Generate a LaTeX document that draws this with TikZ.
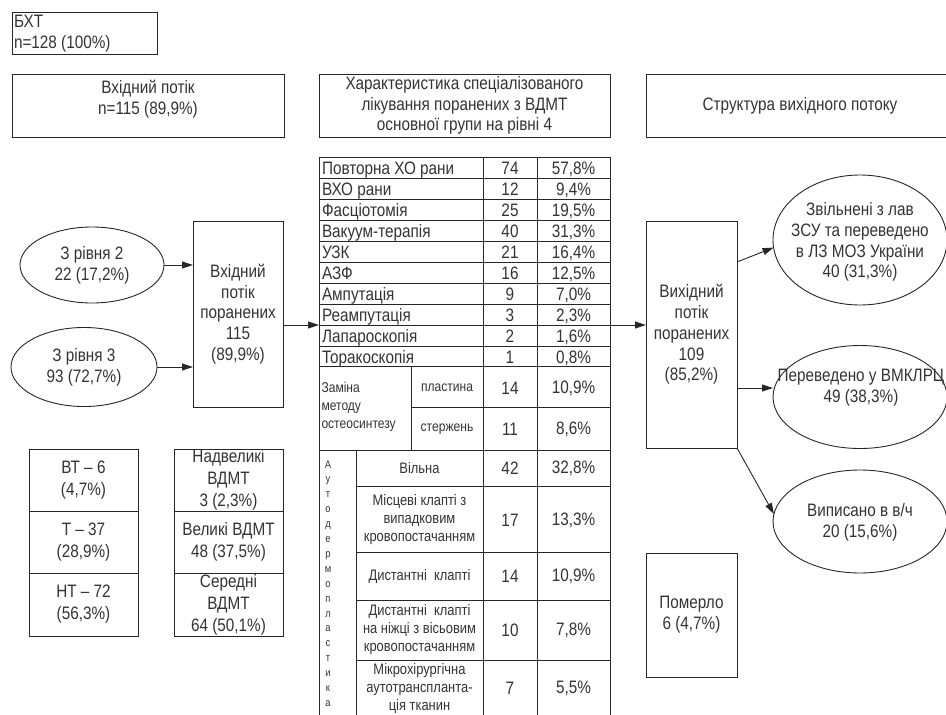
\documentclass[tikz,border=0pt]{standalone}
\usepackage{fontspec}
\setmainfont{Liberation Sans}[FakeStretch=0.85]
\usetikzlibrary{arrows.meta,shapes.geometric}
\newcommand\tabrow[5]{%
  \node[txt, anchor=base west] (tl#1) at (322,#2+6.5) {#3};
  \node[txt, anchor=base] (tn#1) at (510,#2+6.5) {#4};
  \node[txt, anchor=base] (tp#1) at (573.5,#2+6.5) {#5};}
\begin{document}
\begin{tikzpicture}[x=1pt,y=-1pt,
  ln/.style={draw=black!85, line width=0.9pt},
  txt/.style={font=\fontsize{18}{20.7}\selectfont, text=black!80, inner sep=0pt, outer sep=0pt, align=center},
  bx/.style={txt, ln, rectangle},
  ell/.style={txt, ln, ellipse},
  sm/.style={txt, font=\fontsize{14.2}{18}\selectfont},
  ad/.style={txt, font=\fontsize{15.2}{18}\selectfont},
  bl/.style={font=\fontsize{18}{22}\selectfont},
  arr/.style={ln, -{Triangle[length=11pt,width=7pt]}}]
\useasboundingbox (0,0) rectangle (946,715);
\clip (0,0) rectangle (946,715);

% headers
\node[bx, minimum width=145, minimum height=42] (bxt) at (84.5,33) {};
\node[txt, anchor=north west, align=left] (bxtt) at (14,15) {БХТ\\n=128 (100\%)};
\node[bx, minimum width=272, minimum height=63] (hin) at (148,105.5) {};
\node[txt] (hint) at (148,99) {Вхідний потік\\n=115 (89,9\%)};
\node[bx, minimum width=291, minimum height=63] (hmid) at (464.5,105.5) {Характеристика спеціалізованого\\лікування поранених з ВДМТ\\основної групи на рівні 4};
\node[bx, minimum width=308, minimum height=63] (hout) at (800,105.5) {Структура вихідного потоку};

% left flow
\node[ell, minimum width=144, minimum height=76] (e2) at (92,265) {З рівня 2\\22 (17,2\%)};
\node[ell, minimum width=146, minimum height=79] (e3) at (84,367) {З рівня 3\\93 (72,7\%)};
\node[bx, minimum width=90, minimum height=186] (inbox) at (238,314) {Вхідний\\потік\\поранених\\115\\(89,9\%)};

% bottom-left boxes
\node[bx, bl, minimum width=109, minimum height=62] (vt) at (83.5,480) {ВТ – 6\\(4,7\%)};
\node[bx, bl, minimum width=109, minimum height=62] (tt) at (83.5,542) {Т – 37\\(28,9\%)};
\node[bx, bl, minimum width=109, minimum height=63] (nt) at (83.5,604.5) {НТ – 72\\(56,3\%)};
\node[bx, bl, minimum width=109, minimum height=62] (nv) at (228.5,480) {Надвеликі\\ВДМТ\\3 (2,3\%)};
\node[bx, bl, minimum width=109, minimum height=62] (vv) at (228.5,542) {Великі ВДМТ\\48 (37,5\%)};
\node[bx, bl, minimum width=109, minimum height=63] (sv) at (228.5,604.5) {Середні\\ВДМТ\\64 (50,1\%)};

% table grid
\draw[ln] (319,157) -- (610,157);
\foreach \yy in {178.3,199.3,220.7,241.7,262.7,283.3,304,325,346.7,366.7,450}
  \draw[ln] (319,\yy) -- (610,\yy);
\draw[ln] (411,407.7) -- (610,407.7);
\foreach \yy in {486.7,552.7,600,660}
  \draw[ln] (356,\yy) -- (610,\yy);
\foreach \xx in {319,483,537,610}
  \draw[ln] (\xx,157) -- (\xx,720);
\draw[ln] (411,366.7) -- (411,450);
\draw[ln] (356,450) -- (356,720);

% table text
\tabrow{1}{167.8}{Повторна ХО рани}{74}{57,8\%}
\tabrow{2}{188.8}{ВХО рани}{12}{9,4\%}
\tabrow{3}{210}{Фасціотомія}{25}{19,5\%}
\tabrow{4}{231.2}{Вакуум-терапія}{40}{31,3\%}
\tabrow{5}{252.2}{УЗК}{21}{16,4\%}
\tabrow{6}{273}{АЗФ}{16}{12,5\%}
\tabrow{7}{293.7}{Ампутація}{9}{7,0\%}
\tabrow{8}{314.7}{Реампутація}{3}{2,3\%}
\tabrow{9}{335.9}{Лапароскопія}{2}{1,6\%}
\tabrow{10}{356.7}{Торакоскопія}{1}{0,8\%}

\node[sm, anchor=west, align=left] (zam) at (321.5,407) {Заміна\\методу\\остеосинтезу};
\node[sm] (pl) at (447,388) {пластина};
\node[sm] (st) at (447,429) {стержень};
\node[txt] (pln) at (510,388) {14};
\node[txt] (plp) at (573.5,388) {10,9\%};
\node[txt] (stn) at (510,429) {11};
\node[txt] (stp) at (573.5,429) {8,6\%};

\node[txt, font=\fontsize{11}{14.9}\selectfont] (adp) at (328,583.5) {А\\у\\т\\о\\д\\е\\р\\м\\о\\п\\л\\а\\с\\т\\и\\к\\а};

\node[ad] (a1) at (419.5,468.5) {Вільна};
\node[txt] (a1n) at (510,468.5) {42};
\node[txt] (a1p) at (573.5,468.5) {32,8\%};
\node[ad] (a2) at (419.5,520) {Місцеві клапті з\\випадковим\\кровопостачанням};
\node[txt] (a2n) at (510,520) {17};
\node[txt] (a2p) at (573.5,520) {13,3\%};
\node[ad] (a3) at (419.5,576.5) {Дистантні\ \ клапті};
\node[txt] (a3n) at (510,576.5) {14};
\node[txt] (a3p) at (573.5,576.5) {10,9\%};
\node[ad] (a4) at (419.5,630) {Дистантні\ \ клапті\\на ніжці з вісьовим\\кровопостачанням};
\node[txt] (a4n) at (510,630) {10};
\node[txt] (a4p) at (573.5,630) {7,8\%};
\node[ad] (a5) at (419.5,688) {Мікрохірургічна\\аутотранспланта-\\ція тканин};
\node[txt] (a5n) at (510,688) {7};
\node[txt] (a5p) at (573.5,688) {5,5\%};

% right side
\node[bx, minimum width=91, minimum height=227] (outbox) at (691.5,334.5) {Вихідний\\потік\\поранених\\109\\(85,2\%)};
\node[bx, minimum width=91, minimum height=124] (dead) at (691.5,615) {Померло\\6 (4,7\%)};
\node[ell, minimum width=174, minimum height=130] (ez) at (860,240) {};
\node[txt] (ezt) at (860,242) {Звільнені з лав\\ЗСУ та переведено\\в ЛЗ МОЗ України\\40 (31,3\%)};
\node[ell, minimum width=174, minimum height=103] (ep) at (860,397) {};
\node[txt] (ept) at (861,388) {Переведено у ВМКЛРЦ\\49 (38,3\%)};
\node[ell, minimum width=174, minimum height=103] (ev) at (860,521.5) {};
\node[txt] (evt) at (860,522) {Виписано в в/ч\\20 (15,6\%)};

% connectors
\coordinate (tin) at (319,325);
\coordinate (tout) at (610,325);
\draw[arr] (e2.east) -- (inbox.west |- e2.east);
\draw[arr] (e3.east) -- (inbox.west |- e3.east);
\draw[arr] (inbox.east |- tin) -- (tin);
\draw[arr] (tout) -- (outbox.west |- tout);
\draw[arr] ([yshift=72.5pt]outbox.east) -- (ez.185);
\draw[arr] (outbox.east |- ept) -- (ep.west |- ept);
\draw[arr] (outbox.south east) -- (ev.175);
\end{tikzpicture}
\end{document}
